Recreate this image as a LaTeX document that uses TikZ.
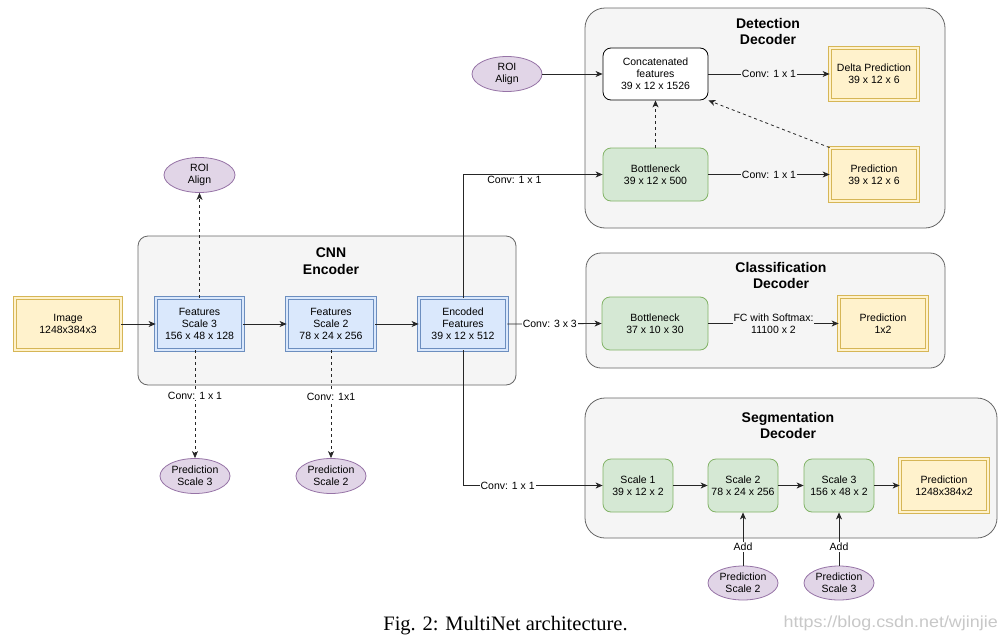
\documentclass[tikz,border=0pt]{standalone}
\usepackage{fontspec}
\setmainfont{Liberation Sans}
\newfontfamily\capfont{Liberation Serif}
\usetikzlibrary{arrows.meta,shapes.geometric}
\definecolor{blueB}{HTML}{6C8EBF}
\definecolor{blueF}{HTML}{DAE8FC}
\definecolor{ylwB}{HTML}{D6B656}
\definecolor{ylwF}{HTML}{FFF2CC}
\definecolor{grnB}{HTML}{82B366}
\definecolor{grnF}{HTML}{D5E8D4}
\definecolor{purB}{HTML}{9673A6}
\definecolor{purF}{HTML}{E1D5E7}
\definecolor{contB}{HTML}{666666}
\definecolor{contF}{HTML}{F5F5F5}
\definecolor{wmark}{HTML}{C8C8C8}
\tikzset{
  txt/.style={font=\fontsize{10.5}{12.1}\selectfont, align=center},
  box/.style={txt, inner sep=0pt, line width=0.8pt},
  blu/.style={box, draw=blueB, fill=blueF, double=blueF, double distance=1.6pt},
  ylw/.style={box, draw=ylwB, fill=ylwF, double=ylwF, double distance=1.6pt},
  grn/.style={box, draw=grnB, fill=grnF, rounded corners=8pt},
  wht/.style={box, draw=black, fill=white, rounded corners=8pt},
  pur/.style={box, ellipse, draw=purB, fill=purF},
  cont/.style={draw=contB, fill=contF, line width=0.8pt, inner sep=0pt},
  ttl/.style={font=\fontsize{14}{16.7}\selectfont\bfseries, align=center},
  arr/.style={-{Stealth[length=7pt,width=6pt,inset=2pt]}, line width=0.8pt, draw=black!85},
  dsh/.style={arr, dash pattern=on 3pt off 3pt},
  lbl/.style={txt, fill=white, inner sep=1pt},
  lblg/.style={txt, fill=contF, inner sep=1pt}
}
\begin{document}
\begin{tikzpicture}[x=1pt,y=-1pt]
\useasboundingbox (0,0) rectangle (1006,637);
\fill[white] (0,0) rectangle (1006,637);

% containers
\node[cont, rounded corners=10pt, minimum width=378, minimum height=149] (enc) at (327,310.5) {};
\node[ttl] (enct) at (331,261) {CNN\\Encoder};
\node[cont, rounded corners=20pt, minimum width=360, minimum height=220] (det) at (765,118) {};
\node[ttl] (dett) at (768,31.5) {Detection\\Decoder};
\node[cont, rounded corners=15pt, minimum width=359, minimum height=115] (cls) at (765.5,310.5) {};
\node[ttl] (clst) at (781,275.5) {Classification\\Decoder};
\node[cont, rounded corners=20pt, minimum width=412, minimum height=140] (seg) at (791,468) {};
\node[ttl] (segt) at (788,425.5) {Segmentation\\Decoder};

% encoder row
\node[ylw, minimum width=106, minimum height=52] (img) at (68,324) {Image\\1248x384x3};
\node[blu, minimum width=87, minimum height=52] (f3) at (199.5,324) {Features\\Scale 3\\156 x 48 x 128};
\node[blu, minimum width=88, minimum height=52] (f2) at (331,324) {Features\\Scale 2\\78 x 24 x 256};
\node[blu, minimum width=88, minimum height=52] (ef) at (463,324) {Encoded\\Features\\39 x 12 x 512};
\node[pur, minimum width=71, minimum height=35] (roi1) at (199.5,175) {ROI\\Align};
\node[pur, minimum width=70, minimum height=35] (ps3) at (195,476) {Prediction\\Scale 3};
\node[pur, minimum width=70, minimum height=35] (ps2) at (331,476) {Prediction\\Scale 2};

% detection decoder
\node[pur, minimum width=70, minimum height=35] (roi2) at (507,74) {ROI\\Align};
\node[wht, minimum width=105, minimum height=52] (cat) at (655.5,74) {Concatenated\\features\\39 x 12 x 1526};
\node[ylw, minimum width=88, minimum height=52] (delta) at (874,74) {Delta Prediction\\39 x 12 x 6};
\node[grn, minimum width=105, minimum height=53] (bn1) at (655.5,174.5) {Bottleneck\\39 x 12 x 500};
\node[ylw, minimum width=88, minimum height=53] (pd) at (874,174.5) {Prediction\\39 x 12 x 6};

% classification decoder
\node[grn, minimum width=106, minimum height=53] (bn2) at (655,323.5) {Bottleneck\\37 x 10 x 30};
\node[ylw, minimum width=88, minimum height=53] (pc) at (883,323.5) {Prediction\\1x2};

% segmentation decoder
\node[grn, minimum width=70, minimum height=53] (s1) at (638,485.5) {Scale 1\\39 x 12 x 2};
\node[grn, minimum width=70, minimum height=53] (s2) at (743,485.5) {Scale 2\\78 x 24 x 256};
\node[grn, minimum width=70, minimum height=53] (s3) at (839,485.5) {Scale 3\\156 x 48 x 2};
\node[ylw, minimum width=88, minimum height=53] (ps) at (944,485.5) {Prediction\\1248x384x2};
\node[pur, minimum width=70, minimum height=34] (e2) at (743,583) {Prediction\\Scale 2};
\node[pur, minimum width=70, minimum height=34] (e3) at (839,583) {Prediction\\Scale 3};

% encoder edges
\draw[arr] (img) -- (f3);
\draw[arr] (f3) -- (f2);
\draw[arr] (f2) -- (ef);
\draw[dsh] (f3.north) -- (roi1.south);
\draw[dsh] ([xshift=-4.5pt]f3.south) -- node[lbl, pos=0.42] {Conv: 1 x 1} (ps3.north);
\draw[dsh] (f2.south) -- node[lbl, pos=0.433] {Conv: 1x1} (ps2.north);
\draw[arr] (ef.north) |- node[txt, anchor=north, pos=0.684, inner sep=1pt] {Conv: 1 x 1} (bn1.west);
\draw[arr] (ef.east) -- node[lbl, pos=0.45] {Conv: 3 x 3} (bn2.west);
\draw[arr] (ef.south) |- node[lbl, pos=0.66] {Conv: 1 x 1} (s1.west);

% detection edges
\draw[arr] (roi2) -- (cat);
\draw[arr] (cat) -- node[lblg] {Conv: 1 x 1} (delta);
\draw[arr] (bn1) -- node[lblg] {Conv: 1 x 1} (pd);
\draw[dsh] (bn1.north) -- (cat.south);
\draw[dsh] (pd.north west) -- (cat.south east);

% classification edges
\draw[arr] (bn2) -- node[lblg] {FC with Softmax:\\11100 x 2} (pc);

% segmentation edges
\draw[arr] (s1) -- (s2);
\draw[arr] (s2) -- (s3);
\draw[arr] (s3) -- (ps);
\draw[arr] (e2.north) -- node[lbl, pos=0.35] {Add} (s2.south);
\draw[arr] (e3.north) -- node[lbl, pos=0.35] {Add} (s3.south);

% caption and watermark
\node[anchor=base, font=\capfont\fontsize{20.5}{24}\selectfont] (cap) at (505.5,630) {Fig. 2: MultiNet architecture.};
\node[anchor=base east, text=wmark, font=\fontsize{16}{19}\selectfont, xscale=1.12, inner sep=0pt] (wm) at (998,627) {https://blog.csdn.net/wjinjie};
\end{tikzpicture}
\end{document}
